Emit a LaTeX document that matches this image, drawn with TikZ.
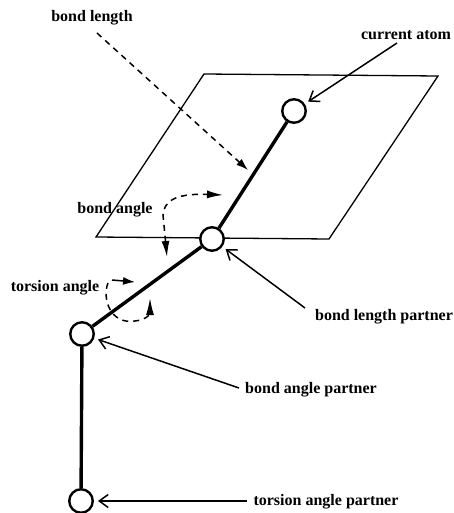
\documentclass[tikz,border=0pt]{standalone}
\usepackage{fontspec}
\setmainfont{Liberation Serif}
\usetikzlibrary{positioning, arrows.meta}

\begin{document}
\begin{tikzpicture}[
                x=1pt, y=-1pt,
                atom/.style={
                    draw=black, line width=2.4pt, fill=white,
                    circle,
                    minimum size=23.5pt,
                    inner sep=0pt
                },
                term/.style={
                    font=\bfseries\fontsize{16}{18}\selectfont,
                    text=black,
                    inner sep=0pt
                },
                plane/.style={
                    draw=black,
                    line width=1.3pt,
                    line join=miter
                },
                bond/.style={
                    draw=black,
                    line width=3.4pt
                },
                pointer/.style={
                    draw=black,
                    line width=1.5pt,
                    shorten >=4pt,
                    -{Straight Barb[length=9pt,width=13pt,line width=1.5pt]}
                },
                dashpointer/.style={
                    draw=black,
                    line width=1.5pt,
                    dash pattern=on 6pt off 5pt
                },
                longtip/.style={
                    -{Latex[length=17pt,width=8pt]}
                },
                shorttip/.style={
                    -{Latex[length=12pt,width=8pt]}
                }
            ]

            \useasboundingbox (0,0) rectangle (454,513);

            % --- plane ---
            \coordinate (planeA) at (204,74);
            \coordinate (planeB) at (438,76);
            \coordinate (planeC) at (329,239);
            \coordinate (planeD) at (96,237);
            \draw[plane] (planeA) -- (planeB) -- (planeC) -- (planeD) -- cycle;

            % --- atoms ---
            \node[atom] (atomA) at (294,111) {};
            \node[atom] (atomB) at (212,239) {};
            \node[atom] (atomC) at (82,334) {};
            \node[atom] (atomD) at (81,501) {};

            \draw[bond] (atomA) -- (atomB);
            \draw[bond] (atomB) -- (atomC);
            \draw[bond] (atomC) -- (atomD);

            % --- labels ---
            \node[term] (lengthlabel) at (92,18) {bond length};
            \node[term] (currentlabel) at (406,35) {current atom};
            \node[term] (anglelabel) at (115,210) {bond angle};
            \node[term] (torsionlabel) at (55,288) {torsion angle};
            \node[term] (lengthpartner) at (384,317) {bond length partner};
            \node[term] (anglepartner) at (311,390) {bond angle partner};
            \node[term] (torsionpartner) at (326,502) {torsion angle partner};

            % --- arrows to the atoms ---
            \coordinate (currentstart) at (397,43);
            \coordinate (lengthstart) at (305,308);
            \coordinate (anglestart) at (239,388);
            \coordinate (torsionstart) at (247,501);
            \draw[pointer] (currentstart) -- (atomA);
            \draw[pointer] (lengthstart) -- (atomB);
            \draw[pointer] (anglestart) -- (atomC);
            \draw[pointer] (torsionstart) -- (atomD);

            % --- dashed arrows ---
            \coordinate (dashstart) at (97,33);
            \coordinate (dashend) at (248,170);
            \draw[dashpointer, shorttip] (dashstart) -- (dashend);

            \draw[dashpointer, {Latex[length=16pt,width=8pt]}-{Latex[length=16pt,width=8pt]}]
                (167,257) -- (163,215) .. controls (164,203) and (172,193) .. (223,195);

            \draw[dashpointer, longtip]
                (108,283) .. controls (102,298) and (110,325) .. (135,321) .. controls (146,320) and (150,314) .. (150,298);
            \draw[draw=black, line width=1.5pt, shorttip] (112,280) -- (135,282);

        \end{tikzpicture}
\end{document}
